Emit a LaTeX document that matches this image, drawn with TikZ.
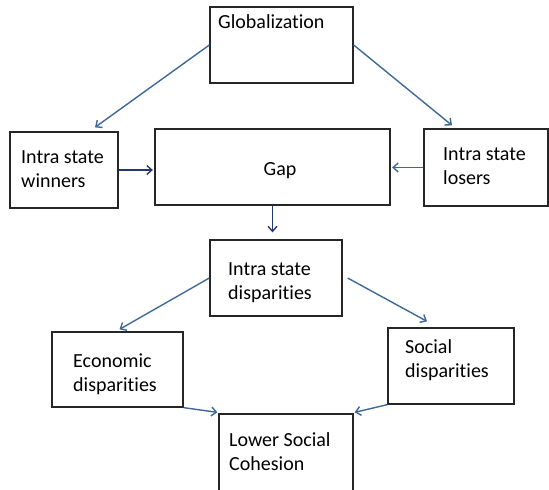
\documentclass[tikz,border=0pt]{standalone}
\usepackage{fontspec}
\setmainfont{Carlito}[Ligatures=NoCommon]
\usetikzlibrary{arrows.meta,calc}
\definecolor{linkblue}{RGB}{62,104,150}
\definecolor{linknavy}{RGB}{36,56,110}
\tikzset{
  BoxStyle/.style = { rectangle, draw = black!85, line width = 1.3pt,
                      inner sep = 0pt },
  TextStyle/.style = { inner sep = 0pt, align = left, anchor = west,
                       font = \fontsize{20}{24}\selectfont },
  LinkStyle/.style = { linkblue, line width = 1.4pt,
                       -{Straight Barb[length=5pt,width=9pt]} } }

\begin{document}
\begin{tikzpicture}[x=1pt,y=1pt]
  \useasboundingbox (0,0) rectangle (549,490);

  % boxes
  \node[BoxStyle, minimum width=143pt, minimum height=76pt] (glob) at (281.5,445) {};
  \node[BoxStyle, minimum width=108pt, minimum height=76pt] (win)  at (64,320) {};
  \node[BoxStyle, minimum width=235pt, minimum height=76pt] (gap)  at (272.5,323) {};
  \node[BoxStyle, minimum width=124pt, minimum height=77pt] (los)  at (486,322.5) {};
  \node[BoxStyle, minimum width=132pt, minimum height=76pt] (disp) at (276,212) {};
  \node[BoxStyle, minimum width=131pt, minimum height=75pt] (econ) at (117.5,120.5) {};
  \node[BoxStyle, minimum width=126pt, minimum height=76pt] (soc)  at (451,124) {};
  \node[BoxStyle, minimum width=134pt, minimum height=80pt] (lsc)  at (286,36) {};

  % texts
  \node[TextStyle] (globtext) at (218,468)   {Globalization};
  \node[TextStyle] (wintext)  at (21,320.5)  {Intra state\\winners};
  \node[TextStyle, anchor=center] (gaptext) at (280,319) {Gap};
  \node[TextStyle] (lostext)  at (443,324)   {Intra state\\losers};
  \node[TextStyle] (disptext) at (228,207)   {Intra state\\disparities};
  \node[TextStyle] (econtext) at (73,116)    {Economic\\disparities};
  \node[TextStyle] (soctext)  at (405,129.5) {Social\\disparities};
  \node[TextStyle] (lsctext)  at (229,38.5)  {Lower Social\\Cohesion};

  % links
  \draw[LinkStyle] (glob.west) -- ($(win.north)+(31,4)$);
  \draw[LinkStyle] (glob.east) -- ($(los.north)+(-34,3)$);
  \draw[LinkStyle, linknavy, shorten >=1.5pt] (win.east) -- (win.east -| gap.west);
  \draw[LinkStyle, shorten >=1.5pt] (los.west) -- (los.west -| gap.east);
  \draw[LinkStyle, linknavy, shorten >=7pt] (gap.south) -- (gap.south |- disp.north);
  \draw[LinkStyle] (disp.west) -- ($(econ.north)+(2,2)$);
  \draw[LinkStyle] ($(disp.east)+(5,0)$) -- ($(soc.north)+(-24,6)$);
  \draw[LinkStyle] (econ.south east) -- ($(lsc.north west)+(-1,1)$);
  \draw[LinkStyle] (soc.south west) -- ($(lsc.north east)+(1,1)$);

\end{tikzpicture}
\end{document}
